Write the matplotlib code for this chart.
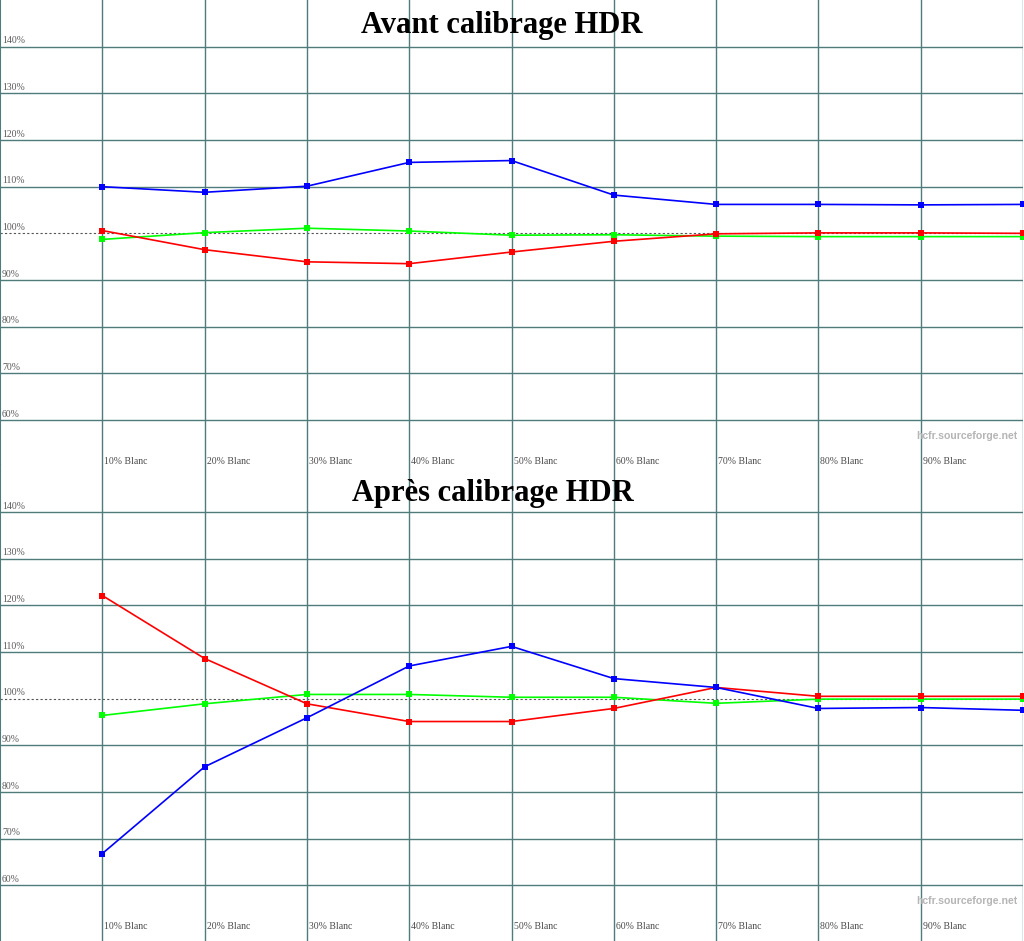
import matplotlib
matplotlib.use("Agg")
import matplotlib.pyplot as plt

# ---- data ----
x_levels = [10, 20, 30, 40, 50, 60, 70, 80, 90, 100]
x_labels = ["10% Blanc", "20% Blanc", "30% Blanc", "40% Blanc", "50% Blanc",
            "60% Blanc", "70% Blanc", "80% Blanc", "90% Blanc"]
y_ticks = [60, 70, 80, 90, 100, 110, 120, 130, 140]
y_labels = ["60%", "70%", "80%", "90%", "100%", "110%", "120%", "130%", "140%"]

titles = ["Avant calibrage HDR", "Après calibrage HDR"]

before_red = [100.6, 96.5, 93.9, 93.5, 96.0, 98.3, 99.9, 100.1, 100.1, 100.0]
before_green = [98.7, 100.15, 101.1, 100.5, 99.6, 99.7, 99.4, 99.3, 99.3, 99.3]
before_blue = [110.0, 108.8, 110.1, 115.2, 115.6, 108.2, 106.2, 106.2, 106.1, 106.2]

after_red = [122.1, 108.6, 98.9, 95.1, 95.1, 97.9, 102.4, 100.5, 100.5, 100.5]
after_green = [96.4, 98.9, 100.9, 100.9, 100.3, 100.3, 99.0, 99.9, 99.9, 99.9]
after_blue = [66.8, 85.4, 95.9, 107.0, 111.2, 104.3, 102.4, 97.9, 98.1, 97.5]

panels = [
    (before_red, before_green, before_blue),
    (after_red, after_green, after_blue),
]

W, H = 1024, 941
fig = plt.figure(figsize=(W / 100, H / 100), dpi=100)
fig.patch.set_facecolor("white")

grid_col = "#4f7b7b"
serif = ["Liberation Serif", "DejaVu Serif"]
sans = ["Liberation Sans", "DejaVu Sans"]

PX_PER_UNIT = 4.667
# panel pixel extents: top (150%) and bottom of the axes box
panel_px = [(0.0, 466.7), (465.3, 941.0)]
title_px = [(502, 26), (493, 493)]

for i, ((top, bot), (r, g, b)) in enumerate(zip(panel_px, panels)):
    ax = fig.add_axes([0, 1 - bot / H, 1023 / W, (bot - top) / H])
    ax.set_xlim(0, 100)
    ax.set_ylim(150 - (bot - top) / PX_PER_UNIT, 150)
    ax.set_facecolor("white")
    for s in ["top", "right", "bottom"]:
        ax.spines[s].set_visible(False)
    ax.spines["left"].set_color(grid_col)
    ax.spines["left"].set_linewidth(1.5)
    ax.set_xticks([])
    ax.set_yticks([])

    for v in y_ticks:
        if v == 100:
            ax.axhline(v, color="#555555", lw=0.8, ls=(0, (2, 2)), zorder=1)
        else:
            ax.axhline(v, color=grid_col, lw=1.0, zorder=1)
    for xv in x_levels:
        ax.axvline(xv, color=grid_col, lw=1.0, zorder=1)

    for v, lab in zip(y_ticks, y_labels):
        ax.text(0.2, v + 0.3, lab, fontsize=7, color="#5a5a5a", family=serif,
                ha="left", va="bottom", zorder=2)
    for xv, lab in zip(x_levels, x_labels):
        ax.text(xv + 0.2, 51.2, lab, fontsize=7, color="#4a4a4a", family=serif,
                ha="left", va="center", zorder=2)

    for series, col in ((g, "#00ff00"), (r, "#ff0000"), (b, "#0000ff")):
        ax.plot(x_levels, series, color=col, lw=1.2, marker="s",
                markersize=4.6, markeredgewidth=0, zorder=3)

    ax.text(99.5, 150 - (436 - 0) / PX_PER_UNIT, "hcfr.sourceforge.net",
            fontsize=7.6, fontweight="bold", color="#b5b5b5", family=sans,
            ha="right", va="center", zorder=2)

    tx, ty = title_px[i]
    fig.text(tx / W, 1 - ty / H, titles[i], fontsize=22, fontweight="bold",
             family=serif, ha="center", va="center", color="black")

fig.savefig("out.png", dpi=100, facecolor="white")
